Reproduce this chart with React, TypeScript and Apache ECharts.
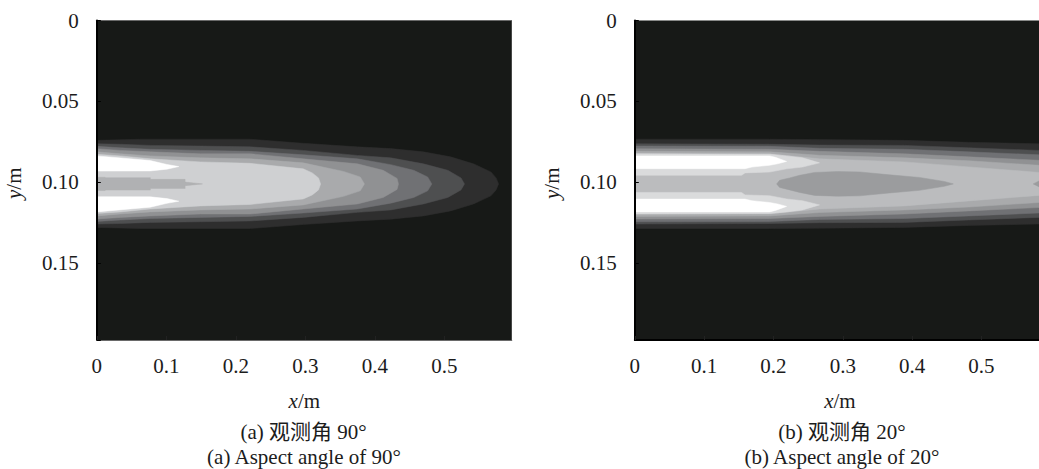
import React, { useEffect, useRef } from "react";
import * as echarts from "echarts";

type Pair = [number, number];
const zip = (xs: number[], hs: number[]): Pair[] => xs.map((x, i) => [x, hs[i]]);

const xTicksLabels = ["0", "0.1", "0.2", "0.3", "0.4", "0.5"];
const yTickLabels: Record<string, string> = { "0": "0", "0.05": "0.05", "0.1": "0.10", "0.15": "0.15" };
const plumeAxisY = 0.101;

// Panel (a): half-widths (m) of each grey contour around the plume axis
const a1X = [0, 0.062, 0.221, 0.297, 0.375, 0.423, 0.47, 0.509, 0.542, 0.567, 0.5745, 0.578];
const a1H = [0.0269, 0.0276, 0.0276, 0.0251, 0.0229, 0.0218, 0.0198, 0.0167, 0.0124, 0.0074, 0.0037, 0];
const a2X = [0, 0.034, 0.077, 0.149, 0.221, 0.297, 0.375, 0.423, 0.47, 0.505, 0.524, 0.529];
const a2H = [0.0248, 0.0245, 0.0238, 0.0234, 0.0229, 0.0207, 0.0176, 0.0161, 0.0124, 0.0084, 0.0037, 0];
const a3X = [0, 0.034, 0.077, 0.149, 0.221, 0.297, 0.375, 0.423, 0.456, 0.476, 0.482];
const a3H = [0.0232, 0.0223, 0.0214, 0.0207, 0.0201, 0.018, 0.0155, 0.0119, 0.0084, 0.0043, 0];
const a4X = [0, 0.034, 0.077, 0.149, 0.221, 0.297, 0.375, 0.412, 0.432, 0.434];
const a4H = [0.0217, 0.0207, 0.0198, 0.0186, 0.0186, 0.0155, 0.0124, 0.0084, 0.0034, 0];
const a5X = [0, 0.034, 0.077, 0.149, 0.221, 0.297, 0.355, 0.379, 0.385];
const a5H = [0.0198, 0.0186, 0.0173, 0.0161, 0.0155, 0.013, 0.0077, 0.0043, 0];
const a6X = [0, 0.034, 0.077, 0.149, 0.221, 0.297, 0.31, 0.319, 0.322];
const a6H = [0.0183, 0.0173, 0.0155, 0.0136, 0.0127, 0.0093, 0.0068, 0.0037, 0];
const aWhiteX = [0, 0.048, 0.077, 0.101, 0.118, 0.101, 0.077, 0];
const aWhiteH = [0.0173, 0.0155, 0.0144, 0.012, 0.0107, 0.0091, 0.008, 0.0079];
const aCoreX = [0, 0.012, 0.012, 0.077, 0.077, 0.127, 0.127, 0.152];
const aCoreH = [0.0041, 0.0041, 0.0038, 0.0038, 0.0028, 0.0028, 0.0011, 0];

// Panel (b)
const bX = [0, 0.1945, 0.2665, 0.389, 0.482, 0.583];
const b1H = [0.0276, 0.0276, 0.0274, 0.0269, 0.0257, 0.0248];
const b2H = [0.0248, 0.0245, 0.024, 0.0238, 0.0223, 0.0207];
const b3H = [0.0234, 0.0232, 0.022, 0.0214, 0.0198, 0.018];
const b4H = [0.0217, 0.0214, 0.0201, 0.0186, 0.0167, 0.0146];
const b5H = [0.0201, 0.0198, 0.0177, 0.0161, 0.0143, 0.0115];
const b6H = [0.0186, 0.0186, 0.0155, 0.0136, 0.0105, 0.0071];
const bPaleX = [0, 0.1945, 0.219, 0.242, 0.2665, 0.242, 0.219, 0.1945, 0.159, 0.154, 0];
const bPaleH = [0.0186, 0.0183, 0.0173, 0.0161, 0.013, 0.0104, 0.0093, 0.0073, 0.0068, 0.0053, 0.0053];
const bWhiteX = [0, 0.1945, 0.203, 0.219, 0.206, 0.1945, 0.169, 0.159, 0];
const bWhiteH = [0.0173, 0.0173, 0.0164, 0.0139, 0.0124, 0.0115, 0.0104, 0.0094, 0.0094];
const bCoreX = [0.2046, 0.2089, 0.2234, 0.2378, 0.2594, 0.2923, 0.3241, 0.3673, 0.4105, 0.4464, 0.4594];
const bCoreH = [0, 0.0022, 0.0037, 0.0053, 0.0071, 0.0076, 0.0074, 0.0056, 0.004, 0.0015, 0];
const bNotchX = [0.5747, 0.583];
const bNotchH = [0, 0.0018];

const GREYS = {
  g1: "#2e2e2e", g2: "#4e4f50", g3: "#707174", g4: "#909193", g5: "#a9aaac",
  g6: "#cfd0d2", core: "#b0b1b3", white: "#ffffff", g6b: "#bbbcbe", pale: "#dadbdc", coreB: "#9b9c9e",
};

function band(gridIndex: number, pts: Pair[], color: string, lobe = false) {
  return {
    type: "custom",
    xAxisIndex: gridIndex,
    yAxisIndex: gridIndex,
    clip: true,
    silent: true,
    data: pts.map(([x, h]) => [x, plumeAxisY - h]),
    renderItem: (params: any, api: any) => {
      if (params.dataIndex !== 0) return null;
      const up = pts.map(([x, h]) => api.coord([x, plumeAxisY - h]));
      const down = pts.map(([x, h]) => api.coord([x, plumeAxisY + h]));
      const style = { fill: color, stroke: color, lineWidth: 0.5 };
      if (lobe) {
        return {
          type: "group",
          children: [
            { type: "polygon", shape: { points: up }, style },
            { type: "polygon", shape: { points: down }, style },
          ],
        };
      }
      return { type: "polygon", shape: { points: [...up, ...down.slice().reverse()] }, style };
    },
  };
}

const FONT = "'Liberation Serif', 'Noto Sans CJK SC', serif";
const TXT = "#1c1c1c";
const SIZE = 21;

function axes(i: number, xMax: number, bottomColor: string, bottomWidth: number, namePad: number) {
  return {
    x: {
      type: "value", gridIndex: i, min: 0, max: xMax, interval: 0.1, position: "bottom", z: 5,
      name: "{i|x}/m", nameLocation: "middle", nameGap: 50,
      nameTextStyle: { fontFamily: FONT, fontSize: SIZE, color: TXT, padding: [0, 0, 0, namePad], rich: { i: { fontFamily: FONT, fontStyle: "italic", fontSize: SIZE, color: TXT } } },
      axisLine: { show: true, onZero: false, lineStyle: { color: bottomColor, width: bottomWidth } },
      axisTick: { show: true, inside: true, length: 4, lineStyle: { color: "#222", width: 1 } },
      axisLabel: { show: true, showMaxLabel: false, margin: 15, fontFamily: FONT, fontSize: SIZE, color: TXT, formatter: (v: number) => xTicksLabels[Math.round(v * 10)] ?? "" },
      splitLine: { show: false },
    },
    y: {
      type: "value", gridIndex: i, min: 0, max: 0.1975, interval: 0.05, inverse: true, z: 5,
      name: "{i|y}/m", nameLocation: "middle", nameGap: 72, nameRotate: 90,
      nameTextStyle: { fontFamily: FONT, fontSize: SIZE, color: TXT, padding: [0, 6, 0, 0], rich: { i: { fontFamily: FONT, fontStyle: "italic", fontSize: SIZE, color: TXT } } },
      axisLine: { show: true, onZero: false, lineStyle: { color: "#000", width: 2 } },
      axisTick: { show: true, inside: true, length: 4, lineStyle: { color: "#000", width: 1 } },
      axisLabel: { show: true, margin: 18, fontFamily: FONT, fontSize: SIZE, color: TXT, formatter: (v: number) => yTickLabels[String(v)] ?? "" },
      splitLine: { show: false },
    },
  };
}

const caption = (text: string, x: number, y: number) => ({
  type: "text", x, y,
  style: { text, fontFamily: FONT, fontSize: SIZE, fill: TXT, textAlign: "center", textVerticalAlign: "middle" },
});

export default function App() {
  const ref = useRef<HTMLDivElement>(null);
  useEffect(() => {
    const chart = echarts.init(ref.current!, undefined, { renderer: "svg" });
    const a = axes(0, 0.597, "#6a6a6a", 1, 0);
    const b = axes(1, 0.583, "#000", 2, 6);
    chart.setOption({
      animation: false,
      backgroundColor: "#ffffff",
      grid: [
        { left: 96.8, top: 20.5, width: 415, height: 319.5, show: true, backgroundColor: "#171917", borderWidth: 0 },
        { left: 634.8, top: 20.5, width: 405, height: 319.5, show: true, backgroundColor: "#171917", borderWidth: 0 },
      ],
      xAxis: [a.x, b.x],
      yAxis: [a.y, b.y],
      series: [
        band(0, zip(a1X, a1H), GREYS.g1),
        band(0, zip(a2X, a2H), GREYS.g2),
        band(0, zip(a3X, a3H), GREYS.g3),
        band(0, zip(a4X, a4H), GREYS.g4),
        band(0, zip(a5X, a5H), GREYS.g5),
        band(0, zip(a6X, a6H), GREYS.g6),
        band(0, zip(aWhiteX, aWhiteH), GREYS.white, true),
        band(0, zip(aCoreX, aCoreH), GREYS.core),
        band(1, zip(bX, b1H), GREYS.g1),
        band(1, zip(bX, b2H), GREYS.g2),
        band(1, zip(bX, b3H), GREYS.g3),
        band(1, zip(bX, b4H), GREYS.g4),
        band(1, zip(bX, b5H), GREYS.g5),
        band(1, zip(bX, b6H), GREYS.g6b),
        band(1, zip(bPaleX, bPaleH), GREYS.pale, true),
        band(1, zip(bWhiteX, bWhiteH), GREYS.white, true),
        band(1, zip(bCoreX, bCoreH), GREYS.coreB),
        band(1, zip(bNotchX, bNotchH), GREYS.coreB),
      ],
      graphic: [
        caption("(a) 观测角 90°", 303.5, 432),
        caption("(a) Aspect angle of 90°", 304, 457),
        caption("(b) 观测角 20°", 842, 432),
        caption("(b) Aspect angle of 20°", 842, 457),
        { type: "line", shape: { x1: 97, y1: 20.5, x2: 512, y2: 20.5 }, style: { stroke: "#6a6a6a", lineWidth: 1 } },
      ],
    });
    return () => chart.dispose();
  }, []);
  return <div ref={ref} style={{ position: "fixed", left: 0, top: 0, width: 1039, height: 469 }} />;
}
